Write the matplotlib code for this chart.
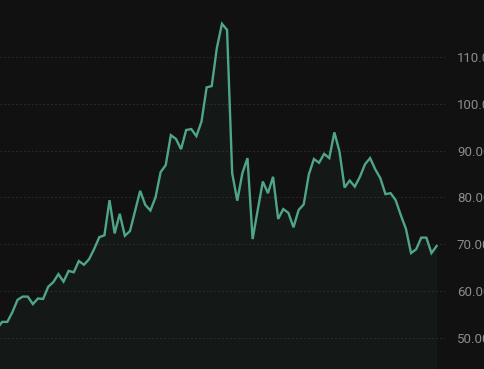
import matplotlib
matplotlib.use("Agg")
import matplotlib.pyplot as plt
from matplotlib.ticker import FormatStrFormatter

# price series (first point sits just off the left edge)
prices = [
    52.0, 53.4, 53.4, 55.5, 58.1, 58.8, 58.8, 57.2, 58.4, 58.3,
    60.9, 61.9, 63.6, 62.0, 64.3, 64.0, 66.4, 65.6, 66.8, 69.0,
    71.5, 71.9, 79.4, 72.3, 76.5, 71.8, 72.8, 77.1, 81.4, 78.4,
    77.2, 80.0, 85.4, 86.9, 93.3, 92.5, 90.3, 94.4, 94.6, 93.1,
    96.2, 103.5, 103.8, 111.9, 117.1, 115.8, 85.2, 79.3, 85.2, 88.4,
    71.1, 77.3, 83.4, 80.9, 84.4, 75.4, 77.5, 76.7, 73.6, 77.3,
    78.5, 84.9, 88.2, 87.4, 89.3, 88.4, 93.9, 89.8, 82.1, 83.6,
    82.3, 84.4, 87.1, 88.4, 86.0, 84.1, 80.7, 80.9, 79.4, 76.2,
    73.3, 68.1, 68.9, 71.4, 71.4, 68.1, 69.6,
]
yticks = [50, 60, 70, 80, 90, 100, 110]

bg = "#111111"
line_color = "#4fa58a"

fig = plt.figure(figsize=(4.84, 3.69), dpi=100, facecolor=bg)
ax = fig.add_axes([0, 0, 445 / 484, 1])
ax.set_facecolor(bg)

x = list(range(len(prices)))
ymin, ymax = 43.33, 122.18

ax.fill_between(x, prices, ymin, color=line_color, alpha=0.05, lw=0)
ax.plot(x, prices, color=line_color, lw=1.7, solid_joinstyle="miter")

ax.set_xlim(0.5675, 87.65)
ax.set_ylim(ymin, ymax)

ax.set_yticks(yticks)
ax.yaxis.set_major_formatter(FormatStrFormatter("%.2f"))
ax.yaxis.tick_right()
ax.tick_params(axis="y", length=0, pad=8.6, labelsize=9.5, labelcolor="#8c8c8c")
for lab in ax.get_yticklabels():
    lab.set_fontfamily("Roboto")
ax.set_xticks([])

ax.grid(axis="y", color="#2a2a2a", lw=0.7, linestyle=(0, (2, 2)))
ax.set_axisbelow(True)
for s in ax.spines.values():
    s.set_visible(False)

fig.savefig("out.png", dpi=100, facecolor=bg)
